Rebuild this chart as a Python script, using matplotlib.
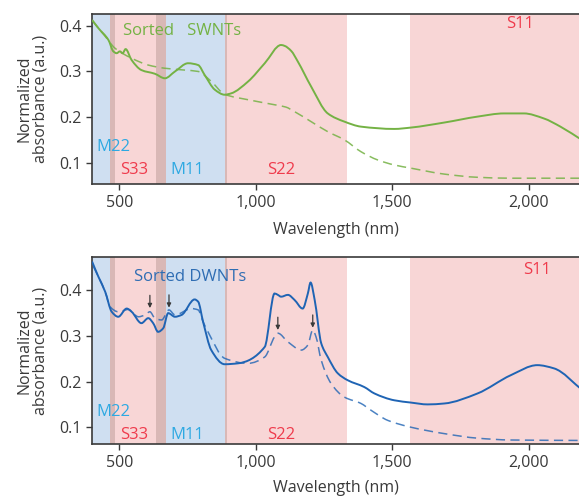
import matplotlib
matplotlib.use("Agg")
import matplotlib.pyplot as plt
import numpy as np
from matplotlib.path import Path
from matplotlib.patches import PathPatch
from matplotlib.ticker import FuncFormatter

plt.rcParams['font.family'] = ['Open Sans', 'DejaVu Sans']

# ---- SWNT spectra (wavelength nm, absorbance) ----
swnt_sorted_x = [400, 423, 460, 478, 490, 502, 512, 523, 545, 581, 630, 667, 704, 752, 789,
                 813, 850, 886, 910, 972, 1033, 1093, 1106, 1130, 1154, 1203, 1264, 1325,
                 1386, 1508, 1569, 1691, 1813, 1910, 1983, 2056, 2117, 2200]
swnt_sorted_y = [0.413, 0.395, 0.369, 0.344, 0.340, 0.344, 0.340, 0.349, 0.325, 0.303, 0.295,
                 0.285, 0.300, 0.318, 0.314, 0.292, 0.260, 0.249, 0.252, 0.278, 0.318, 0.358,
                 0.356, 0.345, 0.322, 0.267, 0.208, 0.190, 0.179, 0.174, 0.177, 0.188, 0.201,
                 0.208, 0.208, 0.197, 0.179, 0.148]
swnt_raw_x = [400, 448, 484, 545, 606, 667, 740, 789, 837, 886, 972, 1069, 1110, 1142, 1203,
              1264, 1325, 1386, 1447, 1508, 1569, 1691, 1813, 1935, 2200]
swnt_raw_y = [0.412, 0.377, 0.351, 0.329, 0.314, 0.307, 0.303, 0.300, 0.278, 0.250, 0.238,
              0.227, 0.222, 0.212, 0.190, 0.168, 0.150, 0.124, 0.106, 0.095, 0.088, 0.075,
              0.068, 0.066, 0.066]

# ---- DWNT spectra ----
dwnt_sorted_x = [400, 423, 448, 472, 496, 527, 545, 581, 606, 624, 642, 661, 679, 704, 728,
                 776, 789, 807, 837, 886, 935, 1033, 1069, 1081, 1093, 1118, 1142, 1172, 1191,
                 1201, 1216, 1240, 1264, 1301, 1337, 1398, 1435, 1508, 1569, 1630, 1691, 1813,
                 1935, 2032, 2093, 2200]
dwnt_sorted_y = [0.463, 0.430, 0.397, 0.353, 0.342, 0.360, 0.353, 0.328, 0.339, 0.328, 0.309,
                 0.317, 0.350, 0.342, 0.346, 0.380, 0.375, 0.331, 0.269, 0.238, 0.240, 0.276,
                 0.393, 0.390, 0.386, 0.390, 0.379, 0.360, 0.393, 0.417, 0.379, 0.284, 0.254,
                 0.218, 0.203, 0.188, 0.174, 0.159, 0.154, 0.150, 0.152, 0.174, 0.214, 0.236,
                 0.229, 0.180]
dwnt_raw_x = [405, 448, 466, 496, 533, 570, 594, 612, 630, 655, 682, 704, 764, 789, 807, 825,
              886, 972, 1033, 1069, 1081, 1118, 1167, 1191, 1209, 1221, 1240, 1276, 1325,
              1386, 1423, 1484, 1569, 1691, 1813, 1935, 2200]
dwnt_raw_y = [0.452, 0.397, 0.364, 0.353, 0.358, 0.342, 0.346, 0.353, 0.339, 0.335, 0.357,
              0.346, 0.360, 0.357, 0.331, 0.309, 0.251, 0.240, 0.254, 0.298, 0.306, 0.287,
              0.269, 0.280, 0.313, 0.298, 0.247, 0.196, 0.166, 0.152, 0.137, 0.115, 0.100,
              0.086, 0.076, 0.072, 0.071]

# Arrow positions (wavelength, tip absorbance) on the DWNT panel
arrow_x = [612, 682, 1081, 1209]
arrow_tip = [0.361, 0.362, 0.313, 0.318]

# ---- Transition bands ----
band_edges = [(400, 467, 'blue'), (467, 483, 'brown'), (483, 636, 'pink'),
              (636, 671, 'brown'), (671, 886, 'blue'), (886, 893, 'brown'),
              (893, 1334, 'pink'), (1566, 2300, 'pink')]
band_colors = {'blue': '#cfdff1', 'pink': '#f8d6d6', 'brown': '#d9b8b6'}

x_ticks = [500, 1000, 1500, 2000]
y_ticks = [0.1, 0.2, 0.3, 0.4]

GREEN = '#74b244'
BLUE_LINE = '#1f64b4'
RED_TXT = '#ef3b4c'
CYAN_TXT = '#2ea9e2'
INK = '#3a3a3a'
FS = 11.5

fig = plt.figure(figsize=(5.79, 4.99), dpi=100)
ax1 = fig.add_axes([0.159, 0.631, 0.841, 0.341])
ax2 = fig.add_axes([0.159, 0.110, 0.841, 0.375])

xlim = (400, 2185)


def smooth_curve(ax, xs, ys, **kw):
    """Draw a smooth monotone-Hermite curve through the given points as Bezier segments."""
    x = np.asarray(xs, float)
    y = np.asarray(ys, float)
    h = np.diff(x)
    d = np.diff(y) / h
    m = np.zeros_like(y)
    m[0], m[-1] = d[0], d[-1]
    for i in range(1, len(y) - 1):
        if d[i - 1] * d[i] <= 0:
            m[i] = 0.0
        else:
            w1 = 2 * h[i] + h[i - 1]
            w2 = h[i] + 2 * h[i - 1]
            m[i] = (w1 + w2) / (w1 / d[i - 1] + w2 / d[i])
    verts = [(x[0], y[0])]
    codes = [Path.MOVETO]
    for i in range(len(x) - 1):
        verts += [(x[i] + h[i] / 3, y[i] + m[i] * h[i] / 3),
                  (x[i + 1] - h[i] / 3, y[i + 1] - m[i + 1] * h[i] / 3),
                  (x[i + 1], y[i + 1])]
        codes += [Path.CURVE4] * 3
    patch = PathPatch(Path(verts, codes), fill=False, capstyle='butt', **kw)
    ax.add_patch(patch)


def style(ax, ylim, xpad):
    for lo, hi, c in band_edges:
        ax.axvspan(lo, hi, color=band_colors[c], lw=0, zorder=0)
    ax.set_xlim(*xlim)
    ax.set_ylim(*ylim)
    ax.set_xticks(x_ticks)
    ax.set_yticks(y_ticks)
    ax.xaxis.set_major_formatter(FuncFormatter(lambda v, p: f"{int(v):,}"))
    ax.yaxis.set_major_formatter(FuncFormatter(lambda v, p: f"{v:.1f}"))
    ax.tick_params(direction='out', length=4.5, width=1, labelsize=FS, pad=3,
                   colors=INK, labelcolor=INK)
    ax.spines['right'].set_visible(False)
    for s in ('left', 'bottom', 'top'):
        ax.spines[s].set_linewidth(1.2)
        ax.spines[s].set_color(INK)
    ax.set_xlabel('Wavelength (nm)', fontsize=FS, color=INK, labelpad=xpad)
    ax.set_ylabel('Normalized\nabsorbance (a.u.)', fontsize=FS, color=INK,
                  labelpad=8, linespacing=1.0)


def band_labels(ax, ym, ys, s11x, ytop):
    ax.text(478, ym, 'M22', color=CYAN_TXT, fontsize=FS + 0.5, ha='center', va='center')
    ax.text(555, ys, 'S33', color=RED_TXT, fontsize=FS + 0.5, ha='center', va='center')
    ax.text(750, ys, 'M11', color=CYAN_TXT, fontsize=FS + 0.5, ha='center', va='center')
    ax.text(1094, ys, 'S22', color=RED_TXT, fontsize=FS + 0.5, ha='center', va='center')
    ax.text(s11x, ytop, 'S11', color=RED_TXT, fontsize=FS + 0.5, ha='center', va='center')


# Top panel: SWNTs
style(ax1, (0.053, 0.426), 8)
smooth_curve(ax1, swnt_sorted_x, swnt_sorted_y, edgecolor=GREEN, lw=1.4, zorder=3)
smooth_curve(ax1, swnt_raw_x, swnt_raw_y, edgecolor=GREEN, lw=1.1, ls=(0, (6, 3.5)),
             alpha=0.85, zorder=3)
ax1.text(730, 0.389, 'Sorted   SWNTs', color=GREEN, fontsize=FS + 0.5, ha='center', va='center')
band_labels(ax1, 0.134, 0.083, 1970, 0.404)

# Bottom panel: DWNTs
style(ax2, (0.063, 0.473), 7)
smooth_curve(ax2, dwnt_sorted_x, dwnt_sorted_y, edgecolor=BLUE_LINE, lw=1.4, zorder=3)
smooth_curve(ax2, dwnt_raw_x, dwnt_raw_y, edgecolor=BLUE_LINE, lw=1.1, ls=(0, (6, 3.5)),
             alpha=0.8, zorder=3)
ax2.text(760, 0.429, 'Sorted DWNTs', color='#2f6db3', fontsize=FS + 0.5, ha='center', va='center')
band_labels(ax2, 0.134, 0.083, 2030, 0.444)
for xa, yt in zip(arrow_x, arrow_tip):
    ax2.annotate('', xy=(xa, yt), xytext=(xa, yt + 0.028),
                 arrowprops=dict(arrowstyle='-|>', color=INK, lw=0.9,
                                 mutation_scale=6, shrinkA=0, shrinkB=0), zorder=4)

fig.savefig('out.png', dpi=100)
